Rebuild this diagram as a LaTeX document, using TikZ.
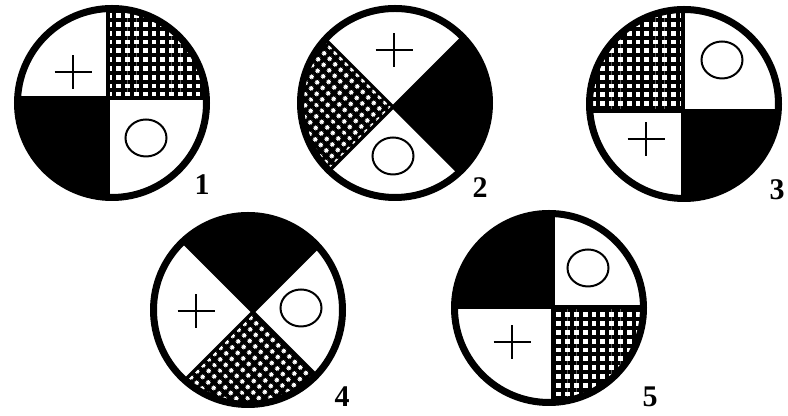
\documentclass[tikz,border=0pt]{standalone}
\usepackage{fontspec}
\setmainfont{Liberation Serif}
\usetikzlibrary{patterns.meta}

\begin{document}
\begin{tikzpicture}[
  x=0.5pt, y=0.5pt,
  rim/.style={line width=3.5pt},
  split/.style={line width=1.6pt},
  sign/.style={line width=1.3pt},
  ring/.style={line width=1pt},
  checks/.style={pattern={Hatch[distance=4.4pt, line width=2pt]}, pattern color=black},
  dotfill/.style={preaction={fill=black}, pattern={Dots[angle=45, distance=4pt, radius=1.2pt]}, pattern color=white},
  num/.style={font=\fontsize{15}{18}\selectfont\bfseries, inner sep=0pt}
]
  \useasboundingbox (0,0) rectangle (788,416);

  % Disk 1
  \coordinate (c1) at (112,313);
  \coordinate (x1) at (108,318);
  \begin{scope}
    \clip (c1) circle (95);
    \fill[checks] (x1) rectangle ++(120,120);
    \fill[black] (x1) rectangle ++(-120,-120);
    \draw[split] (x1) ++(-120,0) -- ++(240,0) (x1) ++(0,-120) -- ++(0,240);
  \end{scope}
  \draw[rim] (c1) circle (94.5);
  \coordinate (p1) at (73,344);
  \coordinate (o1) at (146,278);
  \draw[sign] (p1) ++(-18.5,0) -- ++(37,0) (p1) ++(0,-17) -- ++(0,34);
  \draw[ring] (o1) ellipse (20.5 and 18.5);
  \node[num] (n1) at (202,231) {1};

  % Disk 2
  \coordinate (c2) at (395,313);
  \coordinate (x2) at (393,309);
  \begin{scope}
    \clip (c2) circle (95);
    \fill[black] (x2) -- ++(150,150) -- ++(0,-300) -- cycle;
    \fill[dotfill] (x2) -- ++(-150,150) -- ++(0,-300) -- cycle;
    \draw[split] (x2) ++(-150,-150) -- ++(300,300) (x2) ++(-150,150) -- ++(300,-300);
  \end{scope}
  \draw[rim] (c2) circle (94.5);
  \coordinate (p2) at (394,366);
  \coordinate (o2) at (393,260);
  \draw[sign] (p2) ++(-18.5,0) -- ++(37,0) (p2) ++(0,-17) -- ++(0,34);
  \draw[ring] (o2) ellipse (20.5 and 18.5);
  \node[num] (n2) at (480,228) {2};

  % Disk 3
  \coordinate (c3) at (684,312);
  \coordinate (x3) at (683,305);
  \begin{scope}
    \clip (c3) circle (95);
    \fill[checks] (x3) rectangle ++(-120,120);
    \fill[black] (x3) rectangle ++(120,-120);
    \draw[split] (x3) ++(-120,0) -- ++(240,0) (x3) ++(0,-120) -- ++(0,240);
  \end{scope}
  \draw[rim] (c3) circle (94.5);
  \coordinate (p3) at (646,277);
  \coordinate (o3) at (722,356);
  \draw[sign] (p3) ++(-18.5,0) -- ++(37,0) (p3) ++(0,-17) -- ++(0,34);
  \draw[ring] (o3) ellipse (20.5 and 18.5);
  \node[num] (n3) at (777,226) {3};

  % Disk 4
  \coordinate (c4) at (248,106);
  \coordinate (x4) at (253,104);
  \begin{scope}
    \clip (c4) circle (95);
    \fill[black] (x4) -- ++(-150,150) -- ++(300,0) -- cycle;
    \fill[dotfill] (x4) -- ++(-150,-150) -- ++(300,0) -- cycle;
    \draw[split] (x4) ++(-150,-150) -- ++(300,300) (x4) ++(-150,150) -- ++(300,-300);
  \end{scope}
  \draw[rim] (c4) circle (94.5);
  \coordinate (p4) at (196,105);
  \coordinate (o4) at (301,108);
  \draw[sign] (p4) ++(-18.5,0) -- ++(37,0) (p4) ++(0,-17) -- ++(0,34);
  \draw[ring] (o4) ellipse (20.5 and 18.5);
  \node[num] (n4) at (342,19) {4};

  % Disk 5
  \coordinate (c5) at (549,108);
  \coordinate (x5) at (553,109);
  \begin{scope}
    \clip (c5) circle (95);
    \fill[black] (x5) rectangle ++(-120,120);
    \fill[checks] (x5) rectangle ++(120,-120);
    \draw[split] (x5) ++(-120,0) -- ++(240,0) (x5) ++(0,-120) -- ++(0,240);
  \end{scope}
  \draw[rim] (c5) circle (94.5);
  \coordinate (p5) at (512,74);
  \coordinate (o5) at (588,148);
  \draw[sign] (p5) ++(-18.5,0) -- ++(37,0) (p5) ++(0,-17) -- ++(0,34);
  \draw[ring] (o5) ellipse (20.5 and 18.5);
  \node[num] (n5) at (650,19) {5};
\end{tikzpicture}
\end{document}
